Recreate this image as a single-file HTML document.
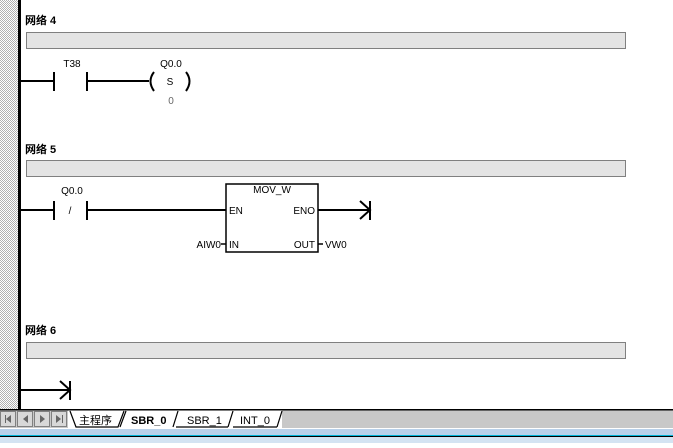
<!DOCTYPE html>
<html><head><style>
body{margin:0;width:673px;height:443px;overflow:hidden;background:#fff;font-family:"Liberation Sans","Noto Sans CJK SC",sans-serif}
</style></head><body>
<svg width="673" height="443" viewBox="0 0 673 443" xmlns="http://www.w3.org/2000/svg" font-family="Liberation Sans, Noto Sans CJK SC, sans-serif">
<defs><pattern id="h" width="2" height="2" patternUnits="userSpaceOnUse"><rect width="2" height="2" fill="#fff"/><rect width="1" height="1" fill="#b0b0b0"/><rect x="1" y="1" width="1" height="1" fill="#b0b0b0"/></pattern></defs>
<rect x="0" y="0" width="19" height="410" fill="url(#h)"/>
<rect x="18" y="0" width="3" height="410" fill="#000"/>
<g font-size="11" font-weight="bold"><text x="25" y="24">网络 4</text><text x="25" y="153">网络 5</text><text x="25" y="334">网络 6</text></g>
<g fill="#e4e4e4" stroke="#808080"><rect x="26.5" y="32.5" width="599" height="16"/><rect x="26.5" y="160.5" width="599" height="16"/><rect x="26.5" y="342.5" width="599" height="16"/></g>
<g stroke="#000" stroke-width="2" fill="none">
<path d="M20 81H54M54 72V91M87 72V91M87 81H149"/>
<path d="M154 72Q147 81 154 91M186 72Q193 81 186 91"/>
<path d="M20 210H54M54 201V220M87 201V220M87 210H226M318 210H370M370 201V220M360 201L370 210L360 219"/>
<path d="M20 390H70M70 381V400M60 381L70 390L60 399"/>
<rect x="226" y="184" width="92" height="68" stroke-width="1.5"/>
<path d="M221 244H226M318 244H323" stroke-width="1.5"/>
</g>
<g font-size="10" fill="#000">
<text x="72" y="67" text-anchor="middle">T38</text>
<text x="171" y="67" text-anchor="middle">Q0.0</text>
<text x="170" y="85" text-anchor="middle">S</text>
<text x="171" y="104" text-anchor="middle" fill="#666">0</text>
<text x="72" y="194" text-anchor="middle">Q0.0</text>
<text x="70" y="214" text-anchor="middle">/</text>
<text x="272" y="193" text-anchor="middle">MOV_W</text>
<text x="229" y="214">EN</text>
<text x="315" y="214" text-anchor="end">ENO</text>
<text x="229" y="248">IN</text>
<text x="315" y="248" text-anchor="end">OUT</text>
<text x="221" y="248" text-anchor="end">AIW0</text>
<text x="325" y="248">VW0</text>
</g>
<rect x="0" y="410" width="673" height="18" fill="#c8c8c8"/>
<rect x="68" y="410" width="214" height="18" fill="#fff"/>
<rect x="0" y="409" width="673" height="1.5" fill="#000"/>
<rect x="0" y="428" width="673" height="1" fill="#fff"/>
<rect x="0" y="429" width="673" height="6" fill="#b9d1ea"/>
<rect x="0" y="435" width="673" height="1" fill="#00b4d8"/>
<rect x="0" y="436" width="673" height="1" fill="#000"/>
<rect x="0" y="437" width="673" height="6" fill="#d4e3f2"/>
<g fill="#d8d8d8" stroke="#808080"><rect x="0.5" y="411.5" width="15" height="15"/><rect x="17.5" y="411.5" width="15" height="15"/><rect x="34.5" y="411.5" width="15" height="15"/><rect x="51.5" y="411.5" width="15" height="15"/></g>
<g fill="#666"><rect x="5" y="415" width="1" height="8"/><path d="M11 415L6 419L11 423Z"/><path d="M28 415L23 419L28 423Z"/><path d="M40 415L45 419L40 423Z"/><path d="M56 415L61 419L56 423Z"/><rect x="62" y="415" width="1" height="8"/></g>
<g stroke="#000" stroke-width="1.2" fill="none">
<path d="M70 411L76 427H118L124 411"/>
<path d="M120 427L126 411"/>
<path d="M173 427L178 411"/>
<path d="M228 427L233 411"/>
<path d="M277 427L282 411"/>
<path d="M176 427H228M233 427H277"/>
</g>
<g font-size="11"><text x="79" y="424">主程序</text><text x="131" y="424" font-weight="bold">SBR_0</text><text x="187" y="424">SBR_1</text><text x="240" y="424">INT_0</text></g>
</svg>
</body></html>
